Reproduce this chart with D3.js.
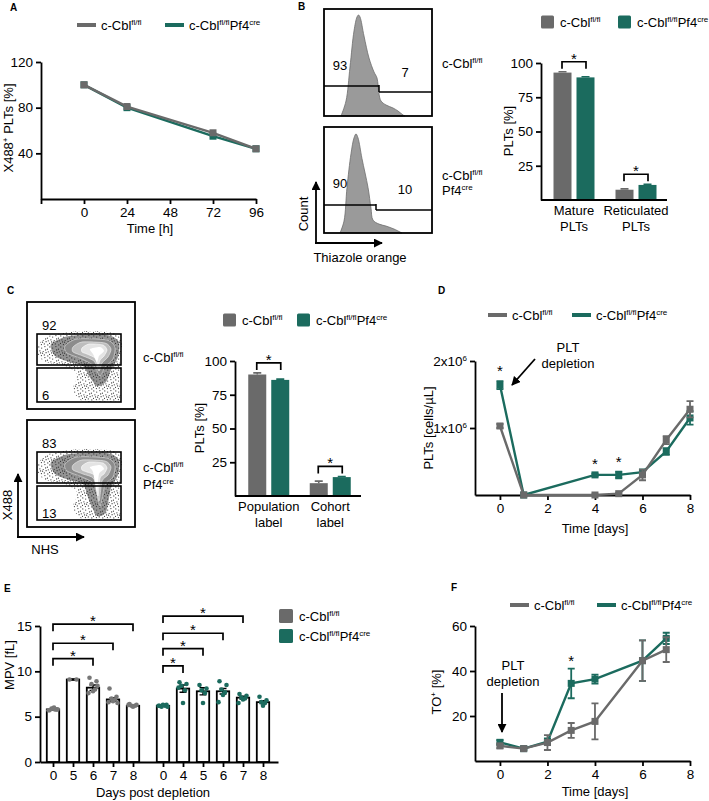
<!DOCTYPE html>
<html><head><meta charset="utf-8">
<script src="https://cdn.jsdelivr.net/npm/d3@7"></script>
<style>body{margin:0;background:#fff} svg{display:block}</style>
</head><body>
<script>
const GRAY="#6a6a6a", TEAL="#1b6b5e", FONT="'Liberation Sans', Arial, sans-serif";

// ---------------- DATA ----------------
// Panel A
const aTime=[0,24,72,96];
const aCtrl=[100,81,58,44];
const aKO=[100,80,55,44];
const aXTicks=[-24,0,24,48,72,96];
const aYTicks=[40,80,120];

// Panel B (histograms: fluorescence a.u. / count a.u.)
const bHistCtrlX=[17,22,26,30,33,34.5,36,40,45,50,53,55,57,62,69,74,79,81];
const bHistCtrlY=[0,15,49,85,99,101,99,80,58,44,38,22,15,11,8,5,1,0];
const bHistKOX=[16,20,23,27,30,32,34,38,44,47,49,55,62,70,76,78];
const bHistKOY=[0,12,46,80,96,100,96,75,46,25,13,9,7,4,1,0];
const bGateCtrl=[93,7];
const bGateKO=[90,10];
const bCats=["Mature|PLTs","Reticulated|PLTs"];
const bCtrl=[93,7.5], bCtrlErr=[0.6,0.6];
const bKO=[89.5,11], bKOErr=[0.5,0.5];
const bYTicks=[25,50,75,100];

// Panel C
const cGateCtrl=[92,6];
const cGateKO=[83,13];
const cCats=["Population|label","Cohort|label"];
const cCtrl=[90,9.5], cCtrlErr=[1.2,1.5];
const cKO=[86,14], cKOErr=[0.6,0.5];
const cYTicks=[25,50,75,100];

// Panel D
const dDays=[0,1,4,5,6,7,8];
const dCtrl=[1.03e6,0,0,0.02e6,0.3e6,0.82e6,1.28e6];
const dCtrlErr=[0.03e6,0,0.01e6,0.01e6,0.08e6,0.06e6,0.12e6];
const dKO=[1.64e6,0,0.3e6,0.3e6,0.34e6,0.65e6,1.15e6];
const dKOErr=[0.06e6,0,0.02e6,0.05e6,0.04e6,0.05e6,0.1e6];
const dStars=[0,4,5];
const dXTicks=[0,2,4,6,8];
const dYTicks=[1e6,2e6];

// Panel E
const eCtrlDays=["0","5","6","7","8"];
const eKODays=["0","4","5","6","7","8"];
const eCtrlMean=[5.8,9.1,8.2,6.9,6.2];
const eCtrlSem=[0.05,0.05,0.3,0.2,0.05];
const eKOMean=[6.2,8.1,7.8,7.8,7.1,6.6];
const eKOSem=[0.05,0.4,0.4,0.3,0.15,0.15];
const eCtrlPts=[[5.7,5.8,5.9,5.8,5.9,5.7,5.8,6.0],[9.1,9.1],[9.3,8.9,8.6,8.0,7.8,7.6,8.4],[8.1,7.2,7.0,6.9,6.7,6.6,6.5],[6.4,6.3,6.2,6.2,6.1,6.3]];
const eKOPts=[[6.2,6.3,6.1,6.2,6.3,6.2,6.1],[8.8,8.6,8.4,7.9,6.5,8.2],[8.5,8.1,7.9,7.6,6.5],[8.9,8.5,8.0,7.7,7.4,6.6],[7.5,7.3,7.1,7.0,6.9,6.5],[7.2,6.8,6.6,6.5,6.2]];
const eCtrlBrackets=[[2,11.4],[3,13.1],[4,15.2]];
const eKOBrackets=[[1,10.6],[2,12.5],[3,14.2],[4,16.1]];
const eYTicks=[0,5,10,15];

// Panel F
const fDays=[0,1,2,3,4,6,7];
const fCtrl=[6.7,5.5,8.2,13.6,17.6,44.6,49.5];
const fCtrlErr=[1,0.6,3.3,3.3,8,9,5.5];
const fKO=[8.3,5.5,8.6,34.5,36.4,44.6,54.5];
const fKOErr=[1,0.5,1.5,6.6,2,9,2.5];
const fStars=[3];
const fXTicks=[0,2,4,6,8];
const fYTicks=[20,40,60];

// ---------------- HELPERS ----------------
const svg=d3.select("body").append("svg").attr("width",709).attr("height",801)
  .attr("font-family",FONT);
const defs=svg.append("defs");
defs.append("marker").attr("id","arr").attr("viewBox","0 0 10 10").attr("refX",9).attr("refY",5)
  .attr("markerWidth",5).attr("markerHeight",5).attr("orient","auto")
  .append("path").attr("d","M0,0L10,5L0,10Z").attr("fill","#000");
const pat=defs.append("pattern").attr("id","spk").attr("width",11).attr("height",11).attr("patternUnits","userSpaceOnUse");
[[0.8,0.9],[3.7,2.1],[6.9,0.6],[9.4,3.2],[1.9,4.8],[5.2,5.5],[8.1,6.7],[0.5,8.3],[3.4,9.6],[6.3,8.9],[9.8,9.9],[4.6,7.2],[10.3,5.8],[2.6,6.9],[7.6,3.9]]
  .forEach(p=>pat.append("circle").attr("cx",p[0]).attr("cy",p[1]).attr("r",0.6).attr("fill","#333"));

function txt(g,x,y,s,opt={}){
  return g.append("text").attr("x",x).attr("y",y).attr("font-size",opt.size||13)
    .attr("text-anchor",opt.anchor||"start").attr("font-weight",opt.weight||"normal")
    .attr("fill","#000").text(s);
}
function rich(g,x,y,parts,opt={}){
  const size=opt.size||13;
  const t=g.append("text").attr("x",x).attr("y",y).attr("font-size",size)
    .attr("text-anchor",opt.anchor||"start").attr("fill","#000");
  if(opt.rotate) t.attr("transform",`rotate(-90,${x},${y})`);
  let up=false;
  parts.forEach(p=>{
    if(typeof p==="string"){
      t.append("tspan").attr("dy",up?size*0.38:0).text(p); up=false;
    } else {
      t.append("tspan").attr("dy",up?0:-size*0.38).attr("font-size",size*0.62).text(p.s); up=true;
    }
  });
  return t;
}
function geno(g,x,y,cre,opt={}){
  const parts=["c-Cbl",{s:"fl/fl"}];
  if(cre) parts.push("Pf4",{s:"cre"});
  return rich(g,x,y,parts,opt);
}
function axisStyle(g,fs=13.5){
  g.attr("font-family",FONT).attr("font-size",fs);
  g.select(".domain").attr("stroke","#000").attr("stroke-width",1.8);
  g.selectAll(".tick line").attr("stroke","#000").attr("stroke-width",1.8);
  g.selectAll(".tick text").attr("fill","#000").attr("font-size",fs);
}
function bracket(g,x1,x2,y,leg=7){
  g.append("path").attr("d",`M${x1},${y+leg}V${y}H${x2}V${y+leg}`).attr("fill","none")
    .attr("stroke","#000").attr("stroke-width",1.7);
  txt(g,(x1+x2)/2,y+2,"*",{anchor:"middle",size:15});
}
function star(g,x,y){ txt(g,x,y+9,"*",{anchor:"middle",size:15}); }
function arrow(g,x1,y1,x2,y2,w=1.8){
  g.append("line").attr("x1",x1).attr("y1",y1).attr("x2",x2).attr("y2",y2)
    .attr("stroke","#000").attr("stroke-width",w).attr("marker-end","url(#arr)");
}
function legLine(g,x,y,color,cre){
  g.append("line").attr("x1",x).attr("x2",x+19).attr("y1",y).attr("y2",y).attr("stroke",color).attr("stroke-width",4);
  geno(g,x+24,y+5,cre);
}
function legBox(g,x,y,color,cre,w=13){
  g.append("rect").attr("x",x).attr("y",y-w/2).attr("width",w).attr("height",w).attr("rx",1.5).attr("fill",color);
  geno(g,x+w+6,y+5,cre);
}
function lineSeries(g,xs,ys,errs,x,y,color){
  if(errs){
    xs.forEach((d,i)=>{
      if(errs[i]<=0) return;
      const yt=y(ys[i]+errs[i]), yb=y(Math.max(0,ys[i]-errs[i]));
      g.append("path").attr("d",`M${x(d)-3.5},${yt}H${x(d)+3.5}M${x(d)},${yt}V${yb}M${x(d)-3.5},${yb}H${x(d)+3.5}`)
        .attr("stroke",color).attr("stroke-width",1.8).attr("fill","none");
    });
  }
  g.append("path").datum(xs.map((d,i)=>[d,ys[i]]))
    .attr("d",d3.line().x(d=>x(d[0])).y(d=>y(d[1])))
    .attr("fill","none").attr("stroke",color).attr("stroke-width",2.4);
  g.selectAll(null).data(xs.map((d,i)=>[d,ys[i]])).join("rect")
    .attr("x",d=>x(d[0])-3.5).attr("y",d=>y(d[1])-3.5).attr("width",7).attr("height",7).attr("fill",color);
}
function bars(g,cats,v1,e1,v2,e2,x,y,base){
  cats.forEach((c,i)=>{
    const cx=x(c)+x.bandwidth()/2;
    [[v1[i],e1[i],GRAY,-20.5],[v2[i],e2[i],TEAL,2.5]].forEach(([v,e,col,off])=>{
      const xc=cx+off+9;
      g.append("path").attr("d",`M${xc},${y(v)}V${y(v+e)}M${xc-4},${y(v+e)}H${xc+4}`)
        .attr("stroke",col).attr("stroke-width",1.6);
      g.append("rect").attr("x",cx+off).attr("y",y(v)).attr("width",18).attr("height",base-y(v)).attr("fill",col);
    });
  });
}
function catLabels(g,cats,x,y0){
  cats.forEach(c=>{
    const cx=x(c)+x.bandwidth()/2;
    c.split("|").forEach((s,k)=>txt(g,cx,y0+k*16,s,{anchor:"middle"}));
  });
}

// ---------------- PANEL A ----------------
{
  const g=svg.append("g");
  txt(g,10,11,"A",{weight:"bold",size:10});
  legLine(g,77,25,GRAY,false);
  legLine(g,165,25,TEAL,true);
  const x=d3.scaleLinear().domain([-24,96]).range([41,256]);
  const y=d3.scaleLinear().domain([0,120]).range([199,62]);
  axisStyle(g.append("g").attr("transform","translate(0,199)")
    .call(d3.axisBottom(x).tickValues(aXTicks).tickFormat(d=>d<0?"":d).tickSize(5).tickSizeOuter(0)));
  axisStyle(g.append("g").attr("transform","translate(41,0)")
    .call(d3.axisLeft(y).tickValues(aYTicks).tickSize(5).tickSizeOuter(0)));
  lineSeries(g,aTime,aKO,null,x,y,TEAL);
  lineSeries(g,aTime,aCtrl,null,x,y,GRAY);
  txt(g,150,233,"Time  [h]",{anchor:"middle"});
  rich(g,13,128,["X488",{s:"+"}," PLTs [%]"],{anchor:"middle",rotate:true});
}

// ---------------- PANEL B ----------------
{
  const g=svg.append("g");
  txt(g,298,10,"B",{weight:"bold",size:10});
  function hist(top,bottom,xs,ys,gate,gy1,gy2,gx,nums){
    const x=d3.scaleLinear().domain([0,108]).range([324,432]);
    const y=d3.scaleLinear().domain([0,107]).range([bottom,top]);
    g.append("path").datum(xs.map((d,i)=>[d,ys[i]]))
      .attr("d",d3.area().x(d=>x(d[0])).y0(bottom).y1(d=>y(d[1])).curve(d3.curveCatmullRom))
      .attr("fill","#9a9a9a").attr("stroke","#6d6d6d").attr("stroke-width",0.8);
    g.append("rect").attr("x",324).attr("y",top).attr("width",108).attr("height",bottom-top)
      .attr("fill","none").attr("stroke","#000").attr("stroke-width",1.8);
    g.append("path").attr("d",`M324,${gy1}H${gx}M${gx},${gy1-1}V${gy2}M${gx},${gy2}H432`)
      .attr("stroke","#000").attr("stroke-width",1.5).attr("fill","none");
    txt(g,340,nums[0],String(gate[0]),{anchor:"middle"});
    txt(g,405,nums[1],String(gate[1]),{anchor:"middle"});
  }
  hist(9,116,bHistCtrlX,bHistCtrlY,bGateCtrl,86,92,379,[70,77]);
  hist(127,233,bHistKOX,bHistKOY,bGateKO,205,210,376,[188,194]);
  geno(g,442,68,false);
  geno(g,442,180,false);
  rich(g,442,195,["Pf4",{s:"cre"}]);
  arrow(g,316,244,316,182,1.8);
  arrow(g,315,243,382,243,1.8);
  txt(g,308,214,"Count",{anchor:"middle"}).attr("transform","rotate(-90,308,214)");
  txt(g,360,262,"Thiazole orange",{anchor:"middle"});

  legBox(g,541,22,GRAY,false);
  legBox(g,618,22,TEAL,true);
  const x=d3.scaleBand().domain(bCats).range([543,667]);
  const y=d3.scaleLinear().domain([0,100]).range([200,63]);
  bars(g,bCats,bCtrl,bCtrlErr,bKO,bKOErr,x,y,200);
  axisStyle(g.append("g").attr("transform","translate(541,0)")
    .call(d3.axisLeft(y).tickValues(bYTicks).tickSize(5).tickSizeOuter(0)));
  g.append("line").attr("x1",541).attr("x2",667).attr("y1",200).attr("y2",200).attr("stroke","#000").attr("stroke-width",1.8);
  catLabels(g,bCats,x,215);
  bCats.forEach((c,i)=>{
    const cx=x(c)+x.bandwidth()/2;
    const top=Math.max(bCtrl[i]+bCtrlErr[i],bKO[i]+bKOErr[i]);
    bracket(g,cx-12,cx+12,y(top)-10);
  });
  rich(g,513,131,["PLTs [%]"],{anchor:"middle",rotate:true});
}

// ---------------- PANEL C ----------------
{
  const g=svg.append("g");
  txt(g,7,294,"C",{weight:"bold",size:10});
  const closed=d3.line().curve(d3.curveCardinalClosed.tension(0.3));
  function flow(ox,oy,tail,gate,gy){
    const s=g.append("g").attr("transform",`translate(${ox},${oy})`);
    const T=tail;
    s.append("path").attr("d",closed([[12,42],[24,33],[55,29],[88,31],[95,42],[93,58],[92,78+T/2],[93,98],[74,100],[55,99],[46,88],[50,72],[38,64],[18,60],[11,52]]))
      .attr("fill","url(#spk)");
    s.append("path").attr("d",closed([[24,42],[42,34],[80,33],[92,40],[91,55],[84,68],[79,80+T],[70,84+T],[62,74+T/2],[56,64],[42,60],[28,54]]))
      .attr("fill","#2a2a2a").attr("opacity",0.5);
    s.append("path").attr("d",closed([[38,44],[50,37],[80,38],[88,45],[86,57],[78,65],[73,74+T],[67,64],[55,57],[40,51]]))
      .attr("fill","#8c8c8c").attr("stroke","#ddd").attr("stroke-width",0.6);
    s.append("path").attr("d",closed([[46,45],[55,40],[78,41],[84,47],[81,55],[75,61],[72,69+T],[67,59],[56,54],[46,50]]))
      .attr("fill","#bdbdbd").attr("stroke","#eee").attr("stroke-width",0.6);
    s.append("path").attr("d",closed([[55,46],[62,42],[76,43],[80,48],[77,54],[73,58],[71,64+T],[68,56],[60,52],[55,50]]))
      .attr("fill","#e4e4e4").attr("stroke","#fff").attr("stroke-width",0.6);
    s.append("path").attr("d",closed([[63,47],[73,45],[77,49],[72,54],[70,60+T],[66,52]]))
      .attr("fill","#fff");
    s.append("rect").attr("width",108).attr("height",107).attr("fill","none").attr("stroke","#000").attr("stroke-width",1.8);
    s.append("rect").attr("x",10).attr("y",32).attr("width",84).attr("height",31).attr("fill","none").attr("stroke","#000").attr("stroke-width",1.6);
    s.append("rect").attr("x",10).attr("y",66).attr("width",84).attr("height",34).attr("fill","none").attr("stroke","#000").attr("stroke-width",1.6);
    txt(s,15,28,String(gate[0]));
    txt(s,15,gy,String(gate[1]));
  }
  flow(27,302,0,cGateCtrl,98);
  flow(27,420,12,cGateKO,98);
  geno(g,143,362,false);
  geno(g,143,472,false);
  rich(g,143,489,["Pf4",{s:"cre"}]);
  arrow(g,18,538,18,474,1.8);
  arrow(g,17,537,84,537,1.8);
  txt(g,12,505,"X488",{anchor:"middle"}).attr("transform","rotate(-90,12,505)");
  txt(g,45,554,"NHS",{anchor:"middle"});

  legBox(g,223,320,GRAY,false);
  legBox(g,297,320,TEAL,true);
  const x=d3.scaleBand().domain(cCats).range([238,361]);
  const y=d3.scaleLinear().domain([0,100]).range([496,361]);
  bars(g,cCats,cCtrl,cCtrlErr,cKO,cKOErr,x,y,496);
  axisStyle(g.append("g").attr("transform","translate(235,0)")
    .call(d3.axisLeft(y).tickValues(cYTicks).tickSize(5).tickSizeOuter(0)));
  g.append("line").attr("x1",235).attr("x2",361).attr("y1",496).attr("y2",496).attr("stroke","#000").attr("stroke-width",1.8);
  catLabels(g,cCats,x,511);
  cCats.forEach((c,i)=>{
    const cx=x(c)+x.bandwidth()/2;
    const top=Math.max(cCtrl[i]+cCtrlErr[i],cKO[i]+cKOErr[i]);
    bracket(g,cx-12,cx+12,y(top)-10);
  });
  rich(g,204,428,["PLTs [%]"],{anchor:"middle",rotate:true});
}

// ---------------- PANEL D ----------------
{
  const g=svg.append("g");
  txt(g,438,294,"D",{weight:"bold",size:10});
  legLine(g,488,315,GRAY,false);
  legLine(g,572,315,TEAL,true);
  const x=d3.scaleLinear().domain([-1.05,8]).range([475,690]);
  const y=d3.scaleLinear().domain([0,2e6]).range([495,361]);
  axisStyle(g.append("g").attr("transform","translate(0,495)")
    .call(d3.axisBottom(x).tickValues(dXTicks).tickSize(5).tickSizeOuter(0)));
  const ya=g.append("g").attr("transform","translate(475,0)")
    .call(d3.axisLeft(y).tickValues(dYTicks).tickSize(5).tickSizeOuter(0));
  axisStyle(ya);
  ya.selectAll(".tick text").each(function(d){
    const t=d3.select(this).text("");
    t.append("tspan").text(d/1e6+"x10");
    t.append("tspan").attr("dy",-5).attr("font-size",8).text("6");
  });
  lineSeries(g,dDays,dKO,dKOErr,x,y,TEAL);
  lineSeries(g,dDays,dCtrl,dCtrlErr,x,y,GRAY);
  dStars.forEach(d=>{
    const i=dDays.indexOf(d);
    star(g,x(d),y(Math.max(dKO[i]+dKOErr[i],dCtrl[i]+dCtrlErr[i]))-14);
  });
  txt(g,568,352,"PLT",{anchor:"middle"});
  txt(g,568,368,"depletion",{anchor:"middle"});
  arrow(g,535,359,512,385,1.8);
  txt(g,595,533,"Time [days]",{anchor:"middle"});
  rich(g,433,428,["PLTs [cells/µL]"],{anchor:"middle",rotate:true});
}

// ---------------- PANEL E ----------------
{
  const g=svg.append("g");
  txt(g,4,592,"E",{weight:"bold",size:10});
  const x=d3.scaleLinear().domain([-0.65,11.25]).range([40,278]);
  const y=d3.scaleLinear().domain([0,15]).range([762,626]);
  const ctrlPos=eCtrlDays.map((d,i)=>i), koPos=eKODays.map((d,i)=>5.5+i);
  const jit=[-3.5,3.5,-1.5,2,0,-4.5,4.5,1];
  function grp(pos,mean,sem,pts,col){
    pos.forEach((p,i)=>{
      const cx=x(p);
      g.append("rect").attr("x",cx-6.2).attr("y",y(mean[i])).attr("width",12.4).attr("height",762-y(mean[i]))
        .attr("fill","#fff").attr("stroke","#000").attr("stroke-width",1.8);
      g.append("path").attr("d",`M${cx-3.5},${y(mean[i]+sem[i])}H${cx+3.5}M${cx},${y(mean[i]+sem[i])}V${y(mean[i]-sem[i])}M${cx-3.5},${y(mean[i]-sem[i])}H${cx+3.5}`)
        .attr("stroke","#000").attr("stroke-width",1.4).attr("fill","none");
      pts[i].forEach((v,k)=>g.append("circle").attr("cx",cx+jit[k%jit.length]).attr("cy",y(v)).attr("r",2.3).attr("fill",col));
    });
  }
  grp(ctrlPos,eCtrlMean,eCtrlSem,eCtrlPts,"#777");
  grp(koPos,eKOMean,eKOSem,eKOPts,TEAL);
  const allPos=ctrlPos.concat(koPos), allLab=eCtrlDays.concat(eKODays);
  axisStyle(g.append("g").attr("transform","translate(0,762)")
    .call(d3.axisBottom(x).tickValues(allPos).tickFormat((d,i)=>allLab[i]).tickSize(5).tickSizeOuter(0)));
  axisStyle(g.append("g").attr("transform","translate(40,0)")
    .call(d3.axisLeft(y).tickValues(eYTicks).tickSize(5).tickSizeOuter(0)));
  eCtrlBrackets.forEach(([j,lv])=>bracket(g,x(ctrlPos[0]),x(ctrlPos[j]),y(lv)));
  eKOBrackets.forEach(([j,lv])=>bracket(g,x(koPos[0]),x(koPos[j]),y(lv)));
  legBox(g,279,616,GRAY,false,14);
  legBox(g,279,636,TEAL,true,14);
  txt(g,153,797,"Days post depletion",{anchor:"middle"});
  rich(g,14,665,["MPV [fL]"],{anchor:"middle",rotate:true});
}

// ---------------- PANEL F ----------------
{
  const g=svg.append("g");
  txt(g,451,591,"F",{weight:"bold",size:10});
  legLine(g,510,605,GRAY,false);
  legLine(g,597,605,TEAL,true);
  const x=d3.scaleLinear().domain([-1.05,8]).range([475,690]);
  const y=d3.scaleLinear().domain([0,60]).range([761,626]);
  axisStyle(g.append("g").attr("transform","translate(0,761)")
    .call(d3.axisBottom(x).tickValues(fXTicks).tickSize(5).tickSizeOuter(0)));
  axisStyle(g.append("g").attr("transform","translate(475,0)")
    .call(d3.axisLeft(y).tickValues(fYTicks).tickSize(5).tickSizeOuter(0)));
  lineSeries(g,fDays,fKO,fKOErr,x,y,TEAL);
  lineSeries(g,fDays,fCtrl,fCtrlErr,x,y,GRAY);
  fStars.forEach(d=>{
    const i=fDays.indexOf(d);
    star(g,x(d),y(Math.max(fKO[i]+fKOErr[i],fCtrl[i]+fCtrlErr[i]))-12);
  });
  txt(g,513,670,"PLT",{anchor:"middle"});
  txt(g,513,686,"depletion",{anchor:"middle"});
  arrow(g,502,693,502,732,1.8);
  txt(g,595,796,"Time [days]",{anchor:"middle"});
  rich(g,441,692,["TO",{s:"+"}," [%]"],{anchor:"middle",rotate:true});
}
</script>
</body></html>
